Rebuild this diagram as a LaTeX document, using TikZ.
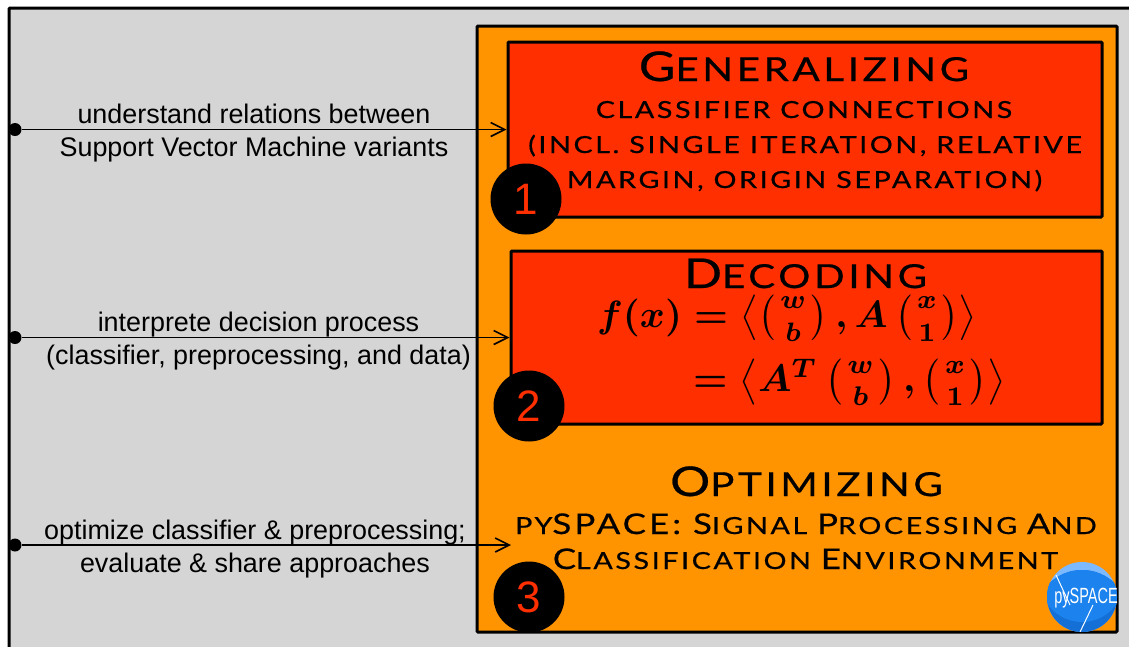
\documentclass[tikz,border=0pt]{standalone}
\usepackage{amsmath}
\usepackage{fontspec}
\setmainfont{Liberation Sans}
\newfontfamily\capsfont[LetterSpace=11,FakeStretch=1.22,FakeBold=0.6]{Lato}
\usetikzlibrary{arrows.meta}
\definecolor{framegray}{HTML}{D5D5D5}
\definecolor{boxorange}{HTML}{FF9300}
\definecolor{boxred}{HTML}{FF2F00}
\definecolor{logoblue}{HTML}{1B82EE}
\definecolor{logolight}{HTML}{7CB9FF}
\definecolor{logodark}{HTML}{146FD6}
\newcommand{\wbvec}{\left(\genfrac{}{}{0pt}{1}{w}{b}\right)}
\newcommand{\xonevec}{\left(\genfrac{}{}{0pt}{1}{x}{1}\right)}
\newcommand{\subcap}[1]{{\fontsize{28.5}{28.5}\selectfont #1}}
\newcommand{\topcap}[1]{{\fontsize{41}{41}\selectfont #1}}
\newsavebox{\mathlinea}
\newsavebox{\mathlineb}
\tikzset{
  framebox/.style={draw=black,line width=3pt,rounded corners=1pt},
  redbox/.style={framebox,fill=boxred,inner sep=0pt},
  titletext/.style={anchor=base,inner sep=0pt,font=\capsfont\fontsize{33}{33}\selectfont},
  subtext/.style={anchor=base,inner sep=0pt,font=\capsfont\fontsize{23.5}{23.5}\selectfont},
  sidetext/.style={font=\fontsize{26.9}{33}\selectfont,align=center},
  mathtext/.style={inner sep=0pt,anchor=base west},
  startdot/.style={circle,fill=black,inner sep=0pt,minimum size=13pt},
  numdot/.style={circle,fill=black,inner sep=0pt,minimum size=71pt,text=boxred,font=\fontsize{44}{44}\selectfont},
  flowline/.style={line width=1.6pt,-{Straight Barb[length=14pt,width=14pt,line width=1.6pt]}}
}
\begin{document}
\sbox{\mathlinea}{\scalebox{3.8}{\boldmath$f(x)=\left\langle\wbvec,A\xonevec\right\rangle$}}
\sbox{\mathlineb}{\scalebox{3.85}{\boldmath$=\left\langle A^T\wbvec,\xonevec\right\rangle$}}
\begin{tikzpicture}[x=1pt,y=-1pt]
  \clip (0,0) rectangle (1129,646);
  \draw[framebox,fill=framegray] (9,8) rectangle (1150,670);
  \draw[framebox,fill=boxorange] (477,26) rectangle (1117,632);

  \node[redbox,minimum width=594pt,minimum height=175pt] (genbox) at (805,129.5) {};
  \node[redbox,minimum width=591pt,minimum height=173pt] (decbox) at (806.5,337.5) {};
  \coordinate (optend) at (511,545);

  \node[titletext] (gentitle) at (804,81) {\topcap{G}ENERALIZING};
  \node[subtext] (gentexta) at (804,118) {CLASSIFIER CONNECTIONS};
  \node[subtext] (gentextb) at (805,153) {(INCL. SINGLE ITERATION, RELATIVE};
  \node[subtext] (gentextc) at (804.5,188) {MARGIN, ORIGIN SEPARATION)};

  \node[titletext] (dectitle) at (805.5,288) {\topcap{D}ECODING};
  \node[mathtext] (decmatha) at (597,327) {\usebox{\mathlinea}};
  \node[mathtext] (decmathb) at (693,391.5) {\usebox{\mathlineb}};

  \node[titletext] (opttitle) at (806.5,496) {\topcap{O}PTIMIZING};
  \node[subtext] (opttexta) at (806,534) {PY\subcap{SPACE: S}IGNAL \subcap{P}ROCESSING \subcap{A}ND};
  \node[subtext] (opttextb) at (805.5,569) {\subcap{C}LASSIFICATION \subcap{E}NVIRONMENT};

  \foreach \id/\x/\y in {1/526/199,2/529/406,3/529/597}
    \node[numdot] (num\id) at (\x,\y) {\id};

  \begin{scope}
    \clip (1117,520) rectangle (1040,640);
    \fill[logolight] (1082,597) circle (35);
    \begin{scope}
      \clip (1082,597) circle (35);
      \fill[logodark] (1082,617) circle (47);
      \begin{scope}
        \clip (1082,617) circle (47);
        \fill[logoblue] (1082,580) circle (42);
      \end{scope}
      \draw[white,line width=1pt] (1056,575) -- (1070,605);
      \draw[white,line width=1pt] (1093,605) -- (1080,632);
    \end{scope}
    \node[text=white,font=\fontsize{22}{22}\selectfont,xscale=0.66,inner sep=0pt] (logotext) at (1086,598) {pySPACE};
  \end{scope}

  \node[startdot] (dota) at (15,129.5) {};
  \node[startdot] (dotb) at (15,337.5) {};
  \node[startdot] (dotc) at (15,545) {};
  \draw[flowline] (dota) -- (genbox);
  \draw[flowline] (dotb) -- (decbox);
  \draw[flowline] (dotc) -- (optend);

  \node[sidetext] (labela) at (254,133.5) {understand relations between\\Support Vector Machine variants};
  \node[sidetext] (labelb) at (258.5,341.5) {interprete decision process\\(classifier, preprocessing, and data)};
  \node[sidetext] (labelc) at (255,549.5) {optimize classifier \& preprocessing;\\evaluate \& share approaches};
\end{tikzpicture}
\end{document}
